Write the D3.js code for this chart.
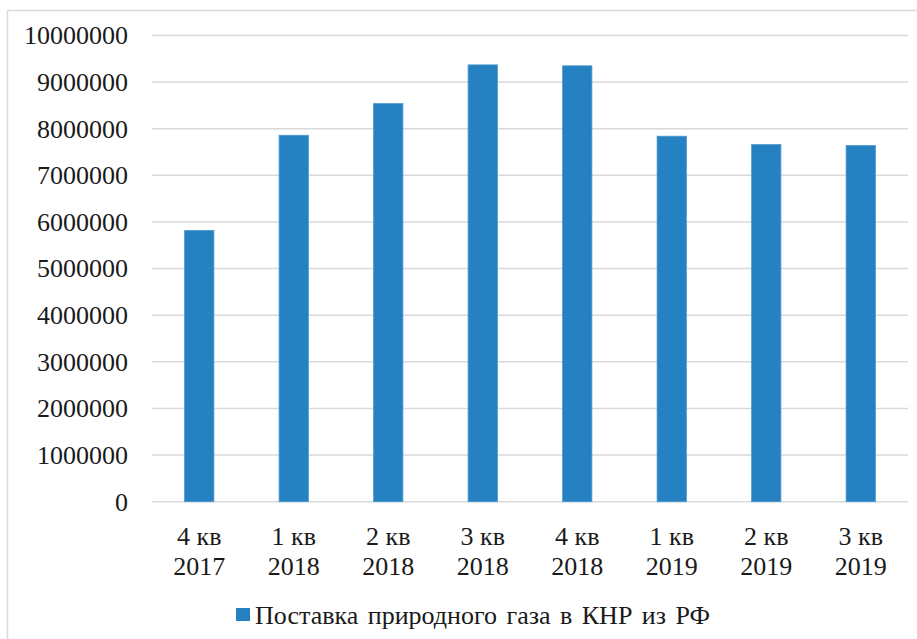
<!DOCTYPE html>
<html>
<head>
<meta charset="utf-8">
<script src="https://cdn.jsdelivr.net/npm/d3@7"></script>
<style>
body { margin: 0; background: #fff; }
text { font-family: "Liberation Serif", "Times New Roman", serif; fill: #1a1a1a; }
</style>
</head>
<body>
<svg id="chart" width="917" height="639"></svg>
<script>
var quarters = ["4 кв", "1 кв", "2 кв", "3 кв", "4 кв", "1 кв", "2 кв", "3 кв"];
var years = ["2017", "2018", "2018", "2018", "2018", "2019", "2019", "2019"];
var supply = [5820000, 7860000, 8540000, 9370000, 9350000, 7840000, 7660000, 7640000];
var yTicks = [0, 1000000, 2000000, 3000000, 4000000, 5000000, 6000000, 7000000, 8000000, 9000000, 10000000];
var seriesName = "Поставка природного газа в КНР из РФ";

var svg = d3.select("#chart");

// chart frame
svg.append("rect")
    .attr("x", 7.5).attr("y", 10.5)
    .attr("width", 930).attr("height", 660)
    .attr("fill", "none")
    .attr("stroke", "#d9d9d9")
    .attr("stroke-width", 1.5);

var idx = d3.range(supply.length);

var x = d3.scaleBand()
    .domain(idx)
    .range([152, 908])
    .paddingInner(0.69)
    .paddingOuter(0.345);

var y = d3.scaleLinear()
    .domain([0, 10000000])
    .range([501.7, 35.5]);

// gridlines
svg.append("g")
    .selectAll("line")
    .data(yTicks)
    .enter()
    .append("line")
    .attr("x1", 152).attr("x2", 908)
    .attr("y1", function (d) { return y(d) })
    .attr("y2", function (d) { return y(d) })
    .attr("stroke", "#d9d9d9")
    .attr("stroke-width", 1.5);

// y labels
svg.append("g")
    .selectAll("text")
    .data(yTicks)
    .enter()
    .append("text")
    .attr("x", 128)
    .attr("y", function (d) { return y(d) + 8.8 })
    .attr("text-anchor", "end")
    .style("font-size", "26px")
    .text(function (d) { return d3.format("d")(d) });

// bars
svg.append("g")
    .selectAll("rect")
    .data(idx)
    .enter()
    .append("rect")
    .attr("x", function (i) { return x(i) })
    .attr("y", function (i) { return y(supply[i]) })
    .attr("width", x.bandwidth())
    .attr("height", function (i) { return y(0) - y(supply[i]) })
    .attr("fill", "#2581c1")
    .attr("stroke", "#4d9ad0")
    .attr("stroke-width", 0.8);

// x labels, two lines
var xl = svg.append("g")
    .selectAll("text")
    .data(idx)
    .enter()
    .append("text")
    .attr("text-anchor", "middle")
    .style("font-size", "26px");
xl.append("tspan")
    .attr("x", function (i) { return x(i) + x.bandwidth() / 2 })
    .attr("y", 545)
    .text(function (i) { return quarters[i] });
xl.append("tspan")
    .attr("x", function (i) { return x(i) + x.bandwidth() / 2 })
    .attr("y", 575)
    .text(function (i) { return years[i] });

// legend
svg.append("rect")
    .attr("x", 236).attr("y", 608)
    .attr("width", 14).attr("height", 13)
    .attr("fill", "#2581c1");
svg.append("text")
    .attr("x", 255).attr("y", 624)
    .style("font-size", "26px")
    .style("word-spacing", "3px")
    .text(seriesName);
</script>
</body>
</html>
